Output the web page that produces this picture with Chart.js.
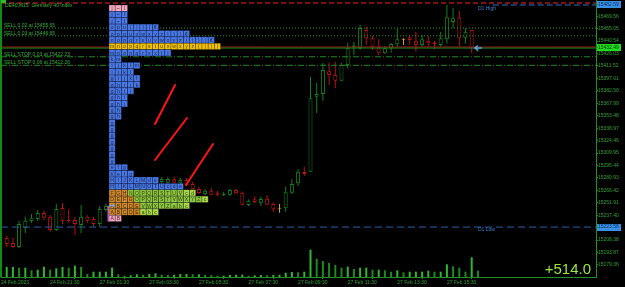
<!DOCTYPE html>
<html><head><meta charset="utf-8">
<script src="https://cdn.jsdelivr.net/npm/chart.js@4.4.0/dist/chart.umd.min.js"></script>
<style>html,body{margin:0;padding:0;background:#000;overflow:hidden}canvas{display:block}</style>
</head><body>
<canvas id="c" width="625" height="287"></canvas>
<script>
// ---------------- DATA ----------------
const chartTitle = "DE40,M15  Germany 40 Index";
const opens  = [15210.8,15205.0,15200.3,15222.5,15230.7,15233.0,15240.0,15235.7,15220.2,15245.8,15231.8,15231.8,15226.0,15235.7,15233.0,15227.2,15243.5,15248.2,15251.7,15256.3,15252.8,15261.0,15266.8,15263.3,15272.7,15276.2,15275.3,15279.3,15274.6,15278.5,15273.8,15268.0,15262.2,15266.0,15263.7,15260.6,15261.3,15266.8,15263.7,15249.3,15256.0,15251.3,15256.7,15250.5,15245.5,15245.5,15263.7,15274.6,15287.8,15288.2,15375.6,15378.8,15405.3,15401.0,15394.3,15412.6,15433.6,15432.1,15453.4,15443.8,15433.3,15426.3,15432.1,15436.8,15442.6,15444.9,15441.0,15435.9,15441.0,15439.1,15435.9,15442.6,15462.8,15468.2,15443.8,15453.4,15432.1];
const highs  = [15213.2,15210.8,15231.0,15235.7,15238.8,15243.5,15242.7,15237.7,15250.5,15251.7,15244.7,15235.7,15249.3,15237.3,15235.7,15248.2,15251.3,15255.2,15258.7,15259.8,15263.3,15270.3,15271.5,15276.2,15280.8,15282.0,15282.3,15282.3,15280.8,15280.8,15276.2,15270.3,15268.0,15269.2,15265.7,15264.8,15268.3,15268.3,15265.1,15255.7,15259.0,15259.0,15260.6,15252.0,15250.5,15270.7,15279.3,15291.0,15294.0,15399.0,15391.6,15415.3,15415.3,15416.5,15414.9,15438.6,15439.8,15459.3,15456.9,15446.4,15442.6,15434.8,15438.3,15455.4,15443.8,15447.6,15451.5,15447.6,15446.4,15441.0,15451.5,15482.59,15479.1,15475.9,15455.4,15453.4,15432.5];
const lows   = [15200.3,15199.2,15199.2,15216.7,15228.7,15231.0,15231.8,15218.2,15219.0,15227.2,15228.7,15214.3,15216.7,15228.7,15224.0,15223.6,15241.5,15245.8,15249.3,15250.5,15251.7,15258.7,15261.0,15262.2,15270.3,15273.8,15273.8,15273.8,15272.7,15271.5,15266.8,15262.2,15261.0,15260.6,15259.8,15259.8,15259.8,15262.2,15248.8,15248.2,15251.3,15248.2,15249.0,15241.5,15240.4,15241.5,15262.2,15271.5,15283.2,15287.8,15356.6,15371.0,15389.3,15385.4,15394.0,15408.8,15424.3,15430.1,15435.9,15430.1,15424.3,15425.4,15427.0,15434.0,15435.9,15435.9,15428.1,15434.0,15434.0,15430.9,15434.0,15437.9,15455.4,15434.0,15437.9,15426.3,15428.1];
const closes = [15203.8,15200.3,15227.2,15231.0,15234.5,15240.0,15234.5,15220.2,15244.7,15231.0,15230.7,15227.2,15235.7,15231.0,15227.2,15244.7,15248.2,15251.7,15256.3,15252.8,15261.0,15266.8,15263.3,15272.7,15277.3,15279.7,15279.7,15275.3,15278.5,15272.7,15267.6,15263.3,15266.0,15261.3,15260.6,15262.2,15266.8,15263.0,15249.7,15254.3,15252.8,15256.3,15249.7,15244.3,15245.5,15264.1,15273.8,15288.2,15285.5,15373.8,15378.8,15406.8,15401.0,15394.3,15412.6,15432.1,15435.4,15455.8,15443.8,15434.0,15426.3,15432.1,15437.1,15442.6,15442.6,15441.8,15435.9,15442.6,15437.9,15437.1,15443.8,15468.2,15467.1,15443.8,15451.5,15432.1,15432.49];
const volumes = [1000,1000,930,930,670,730,1030,730,870,1000,930,1130,1000,300,530,530,530,930,270,130,170,270,230,300,370,230,200,230,300,300,270,270,200,170,130,130,200,230,230,130,170,200,170,200,230,430,500,470,530,2730,1830,1600,1400,1200,930,1030,800,930,930,730,730,670,530,670,470,530,530,530,630,530,530,1270,1070,930,530,1970,630];

const xTickIndex  = [-0.92, 7, 15, 23, 31, 39, 47, 55, 63, 71];
const xTickLabels = ["24 Feb 2023","24 Feb 21:30","27 Feb 01:30","27 Feb 03:30","27 Feb 05:30","27 Feb 07:30","27 Feb 09:30","27 Feb 11:30","27 Feb 13:30","27 Feb 15:30"];
const yTickLabels = ["15469.56","15455.05","15440.54","15426.03","15411.52","15397.01","15382.50","15367.99","15353.48","15338.97","15324.46","15309.95","15295.44","15280.93","15266.42","15251.91","15237.40","15208.38","15193.87","15179.36"];
const highlightPrices = [15482.59, 15432.49, 15223.58];
const highlightKinds  = ["d1", "bid", "d1"];

const d1High = 15482.59, d1Low = 15223.58, bidPrice = 15432.49, askPrice = 15433.69, topLevel = 15485.0;
const orderLabels = ["SELL 0.02 at 15455.65","SELL 0.03 at 15446.65","SELL STOP 0.03 at 15422.23","SELL STOP 0.06 at 15412.26"];
const orderPrices = [15455.65, 15446.65, 15422.23, 15412.26];
const orderTypes  = ["limit","limit","stop","stop"];
const resultText = "+514.0";

// market profile (TPO) rows, top to bottom
const profileTop = 15482.59, profileStep = 7.43, profileStartIndex = 16.5;
const profileRows = ["j~l","j~l","j~l","opu{|}|€","opquvwxyz|}|€","nopqrsuvwxyz{|}|€","mnopqrstuvwxyz{|}|","mnopqrsx{|","km","ijklm","ijkl","gijkl","ghijk","ghij","ghi","ghi","gh","gh","g","g","g","g","g","g","g","efg","Kefg","HIJKLMde","HIKLMNOTUcde","FGHNOPQRSTUVcd","DEFGOPQRSTVWXYZc","ABCDEVWXYZabc","ABCDEabc","AB"];
const profileColors = ["ppp","bbb","bbb","bbbbbbbb","bbbbbbbbbbbbb","bbbbbbbbbbbbbbbbb","yyyyyyyyyyyyyyyyyy","bbbbbbbbbb","bb","bbbbb","bbbb","bbbbb","bbbbb","bbbb","bbb","bbb","bb","bb","b","b","b","b","b","b","b","bbb","bbbb","bbbbbbbb","bbbbbbbbbbbb","ooogggggggggll","oooogggggggggggl","ooooogggggggl","ooooolll","pp"];

// hand-drawn red arrows [x1, price1, x2, price2]
const redMarks = [[23.92,15343.8,27.15,15389.3],[23.92,15301.8,29.08,15350.8],[28.92,15272.7,33.27,15320.5]];

// ---------------- STYLE ----------------
const GREEN = '#1f8f1f', LABEL = '#2fa52f', BULL = '#14801a', BEAR = '#b81212', DOJI = '#c9a227';
const FONT = '"Liberation Sans", Arial, sans-serif';
const xMin = -0.92, xMax = 95.05, yMin = 15165.35, yMax = 15488.42;
const cellFill = {b:'#4a78e2', y:'#f2c200', p:'#f2a9bd', o:'#d08a2c', g:'#8fc640', l:'#a9d84a'};
const cellText = {b:'#13224d', y:'#4a3800', p:'#5a2030', o:'#4a2600', g:'#2a4400', l:'#2a4400'};

const candleColor = opens.map((o,i)=> closes[i]>o ? BULL : (closes[i]<o ? BEAR : DOJI));
const bodyData = opens.map((o,i)=>({x:i, y: o===closes[i] ? [o-0.6,o+0.6] : [o,closes[i]]}));
const wickData = lows.map((l,i)=>({x:i, y:[l,highs[i]]}));
const volData = volumes.map((v,i)=>({x:i, y:v}));
const volColor = volumes.map((v,i)=> (i===0 || v>=volumes[i-1]) ? '#2fb82f' : '#1d8a1d');

function hLine(price, color, dash, width, from, to){
  return {type:'line', data:[{x:from===undefined?xMin:from,y:price},{x:to===undefined?xMax:to,y:price}],
    borderColor:color, borderWidth:width, borderDash:dash, pointRadius:0, order:1, yAxisID:'y', tension:0};
}
const lineSets = [
  hLine(topLevel,'#7a1212',[5,3],2),
  hLine(d1High,'#2f6fc8',[6,3],1,78.4),
  hLine(d1Low,'#2a5fa8',[7,4],1),
  hLine(askPrice,'#8a1a1a',[],1),
  hLine(bidPrice,'#22aa22',[],1)
];
orderPrices.forEach((p,i)=>lineSets.push(hLine(p, orderTypes[i]==='limit'?'#2d9a2d':'#238a23', orderTypes[i]==='limit'?[1,2]:[6,2,1,2],1)));

const overlay = {
  id:'overlay',
  beforeDraw(chart){
    const c = chart.ctx, ys = chart.scales.y;
    c.save(); c.fillStyle='#000'; c.fillRect(0,0,chart.width,chart.height);
    highlightPrices.forEach((p,i)=>{
      const py = ys.getPixelForValue(p);
      c.fillStyle = highlightKinds[i]==='bid' ? '#22dd22' : '#3a8fe6';
      c.fillRect(ys.left, Math.round(py-3.5), 25, 7);
    });
    c.restore();
  },
  afterDatasetsDraw(chart){
    const c = chart.ctx, xs = chart.scales.x, ys = chart.scales.y;
    c.save();
    // profile cells
    c.font = '5px '+FONT; c.textAlign='center'; c.textBaseline='middle';
    profileRows.forEach((row,r)=>{
      const y0 = ys.getPixelForValue(profileTop - r*profileStep);
      const y1 = ys.getPixelForValue(profileTop - (r+1)*profileStep);
      [...row].forEach((ch,k)=>{
        const code = profileColors[r][k] || 'b';
        const x0 = xs.getPixelForValue(profileStartIndex + k), x1 = xs.getPixelForValue(profileStartIndex + k + 1);
        c.fillStyle = cellFill[code]; c.fillRect(x0,y0,x1-x0,y1-y0);
        c.strokeStyle='rgba(0,0,30,0.4)'; c.lineWidth=0.7; c.strokeRect(x0,y0,x1-x0,y1-y0);
        c.fillStyle = cellText[code]; c.fillText(ch,(x0+x1)/2,(y0+y1)/2+0.5);
      });
    });
    // purple marker at profile base
    const px = xs.getPixelForValue(profileStartIndex);
    c.fillStyle='#b05ad0';
    c.fillRect(px-1.5, ys.getPixelForValue(profileTop-31.5*profileStep), 1.5, ys.getPixelForValue(profileTop-34*profileStep)-ys.getPixelForValue(profileTop-31.5*profileStep));
    // small blue arrow in profile
    const ay = ys.getPixelForValue(profileTop-31.5*profileStep);
    c.strokeStyle='#6fb0ff'; c.lineWidth=1;
    c.beginPath(); c.moveTo(px+0.5,ay); c.lineTo(px+5,ay); c.moveTo(px+3,ay-2); c.lineTo(px+5,ay); c.lineTo(px+3,ay+2); c.stroke();
    // red marks
    c.strokeStyle='#ff1414'; c.lineWidth=2; c.lineCap='round';
    redMarks.forEach(m=>{ c.beginPath(); c.moveTo(xs.getPixelForValue(m[0]),ys.getPixelForValue(m[1])); c.lineTo(xs.getPixelForValue(m[2]),ys.getPixelForValue(m[3])); c.stroke(); });
    // price arrow at last bar
    const lx = xs.getPixelForValue(opens.length-1), ly = ys.getPixelForValue(bidPrice);
    c.strokeStyle='#5aa0e0'; c.lineWidth=1.5; c.lineCap='butt';
    c.beginPath(); c.moveTo(lx+4,ly); c.lineTo(lx-3,ly); c.moveTo(lx,ly-2.5); c.lineTo(lx-3,ly); c.lineTo(lx,ly+2.5); c.stroke();
    c.restore();
  },
  afterDraw(chart){
    const c = chart.ctx, xs = chart.scales.x, ys = chart.scales.y, a = chart.chartArea;
    c.save();
    c.strokeStyle='#138a13'; c.lineWidth=2; c.beginPath(); c.moveTo(a.left,0); c.lineTo(a.left,a.bottom); c.stroke();
    c.fillStyle='#2dbb2d'; c.fillRect(1,0,5,3);
    c.font='5px '+FONT; c.textAlign='left'; c.textBaseline='alphabetic';
    c.fillStyle='#3cb43c'; c.fillText(chartTitle, 5, 6.5);
    c.fillStyle='#35b035';
    orderPrices.forEach((p,i)=>{ c.fillText(orderLabels[i], 4, ys.getPixelForValue(p)-1); });
    c.fillStyle='#3b7fd4';
    c.fillText('D1 High', xs.getPixelForValue(76), ys.getPixelForValue(d1High)+5);
    c.fillText('D1 Low', xs.getPixelForValue(76), ys.getPixelForValue(d1Low)+4);
    c.font='15px '+FONT; c.textAlign='right'; c.fillStyle='#9be63c';
    c.fillText(resultText, a.right-5, a.bottom-3.5);
    c.restore();
  }
};

new Chart(document.getElementById('c'), {
  type:'bar',
  data:{datasets:[
    ...lineSets,
    {type:'bar', data:bodyData, backgroundColor:'#000', borderColor:candleColor, borderWidth:1, borderSkipped:false, inflateAmount:0, barThickness:4, grouped:false, order:2, yAxisID:'y'},
    {type:'bar', data:wickData, backgroundColor:candleColor, borderWidth:0, inflateAmount:0, barThickness:1, grouped:false, order:3, yAxisID:'y'},
    {type:'bar', data:volData, backgroundColor:volColor, borderWidth:0, inflateAmount:0, barThickness:2, grouped:false, order:4, yAxisID:'yv'}
  ]},
  options:{
    responsive:false, animation:false, devicePixelRatio:1, events:[],
    layout:{padding:{left:1,top:0,right:0,bottom:0}},
    plugins:{legend:{display:false}, tooltip:{enabled:false}},
    scales:{
      x:{type:'linear', min:xMin, max:xMax, offset:false, position:'bottom',
        grid:{display:true, drawOnChartArea:false, drawTicks:true, tickLength:2, color:GREEN},
        border:{display:true, color:GREEN},
        ticks:{autoSkip:false, maxRotation:0, minRotation:0, align:'start', padding:1, color:LABEL, font:{family:FONT,size:5},
          callback:(v)=>{ const k = xTickIndex.indexOf(v); return k>=0 ? xTickLabels[k] : ''; }},
        afterBuildTicks:(s)=>{ s.ticks = xTickIndex.map(v=>({value:v})); },
        afterFit:(s)=>{ s.height=10; s.paddingLeft=0; s.paddingRight=0; }
      },
      y:{type:'linear', position:'right', min:yMin, max:yMax,
        grid:{display:true, drawOnChartArea:false, drawTicks:true, tickLength:2, color:GREEN},
        border:{display:true, color:GREEN},
        ticks:{autoSkip:false, padding:0, font:{family:FONT,size:5},
          color:(ctx)=>{ const k = highlightPrices.indexOf(ctx.tick && ctx.tick.value); return k<0 ? LABEL : (highlightKinds[k]==='bid' ? '#063806' : '#0a2c55'); },
          callback:(v)=>Number(v).toFixed(2)},
        afterBuildTicks:(s)=>{ s.ticks = highlightPrices.concat(yTickLabels.map(Number)).map(v=>({value:v})); },
        afterFit:(s)=>{ s.width=29; s.paddingTop=0; s.paddingBottom=0; }
      },
      yv:{type:'linear', display:false, min:0, max:27700}
    }
  },
  plugins:[overlay]
});
</script>
</body></html>
